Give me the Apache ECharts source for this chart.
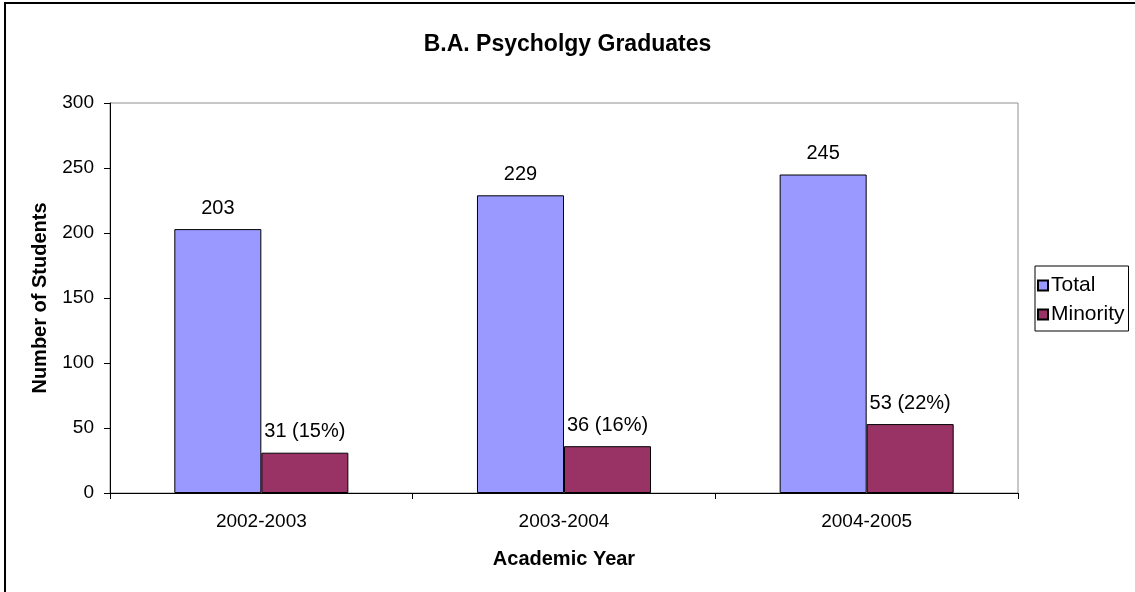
<!DOCTYPE html>
<html>
<head>
<meta charset="utf-8">
<script src="https://cdn.jsdelivr.net/npm/echarts@6/dist/echarts.min.js"></script>
<style>html,body{margin:0;padding:0;background:#fff;}#c{width:1135px;height:592px;}</style>
</head>
<body>
<div id="c"></div>
<script>
const categories = ['2002-2003', '2003-2004', '2004-2005'];
const totalValues = [203, 229, 245];
const minorityValues = [31, 36, 53];
const minorityPct = ['15%', '16%', '22%'];
const yTicks = [0, 50, 100, 150, 200, 250, 300];

const chart = echarts.init(document.getElementById('c'));
const font = 'Liberation Sans, Arial, sans-serif';
chart.setOption({
  animation: false,
  backgroundColor: '#fff',
  textStyle: { fontFamily: font },
  title: {
    text: 'B.A. Psycholgy Graduates',
    left: 'center', top: 28,
    textStyle: { fontSize: 23, fontWeight: 'bold', color: '#000', fontFamily: font }
  },
  graphic: [{
    type: 'rect', shape: { x: 5, y: 3, width: 1300, height: 800 },
    style: { fill: 'none', stroke: '#000', lineWidth: 2 }, silent: true, z: -1
  }],
  legend: {
    orient: 'vertical', left: 1035, top: 266,
    data: ['Total', 'Minority'],
    borderColor: '#000', borderWidth: 1, padding: [9, 4, 6, 2],
    itemWidth: 10, itemHeight: 10, itemGap: 8,
    icon: 'rect',
    textStyle: { fontSize: 21, color: '#000', fontFamily: font, padding: [0, 0, 0, -2] }
  },
  grid: {
    left: 110, right: 117, top: 103, bottom: 99,
    show: true, borderColor: '#909090', borderWidth: 1
  },
  xAxis: {
    type: 'category', data: categories,
    name: 'Academic Year', nameLocation: 'middle', nameGap: 56,
    nameTextStyle: { fontSize: 20, fontWeight: 'bold', color: '#000', fontFamily: font },
    axisLine: { lineStyle: { color: '#000', width: 1 } },
    axisTick: { show: true, length: 6, lineStyle: { color: '#000' } },
    axisLabel: { fontSize: 19, color: '#000', margin: 19, fontFamily: font }
  },
  yAxis: {
    type: 'value', min: 0, max: 300, interval: 50,
    name: 'Number of Students', nameLocation: 'middle', nameGap: 60, nameRotate: 90,
    nameTextStyle: { fontSize: 20, fontWeight: 'bold', color: '#000', fontFamily: font },
    axisLine: { show: true, lineStyle: { color: '#000', width: 1 } },
    axisTick: { show: true, length: 6, lineStyle: { color: '#000' } },
    splitLine: { show: false },
    axisLabel: {
      fontSize: 19, color: '#000', margin: 16, fontFamily: font,
      formatter: v => yTicks.includes(v) ? String(v) : ''
    }
  },
  series: [
    {
      name: 'Total', type: 'bar', data: totalValues,
      barGap: '0%', barCategoryGap: '42.5%',
      itemStyle: { color: '#9999FF', borderColor: '#000', borderWidth: 1 },
      label: { show: true, position: 'top', distance: 11, fontSize: 20, color: '#000', fontFamily: font }
    },
    {
      name: 'Minority', type: 'bar', data: minorityValues,
      itemStyle: { color: '#993366', borderColor: '#000', borderWidth: 1 },
      label: {
        show: true, position: 'top', distance: 11, fontSize: 20, color: '#000', fontFamily: font,
        formatter: p => p.value + ' (' + minorityPct[p.dataIndex] + ')'
      }
    }
  ]
});
</script>
</body>
</html>
